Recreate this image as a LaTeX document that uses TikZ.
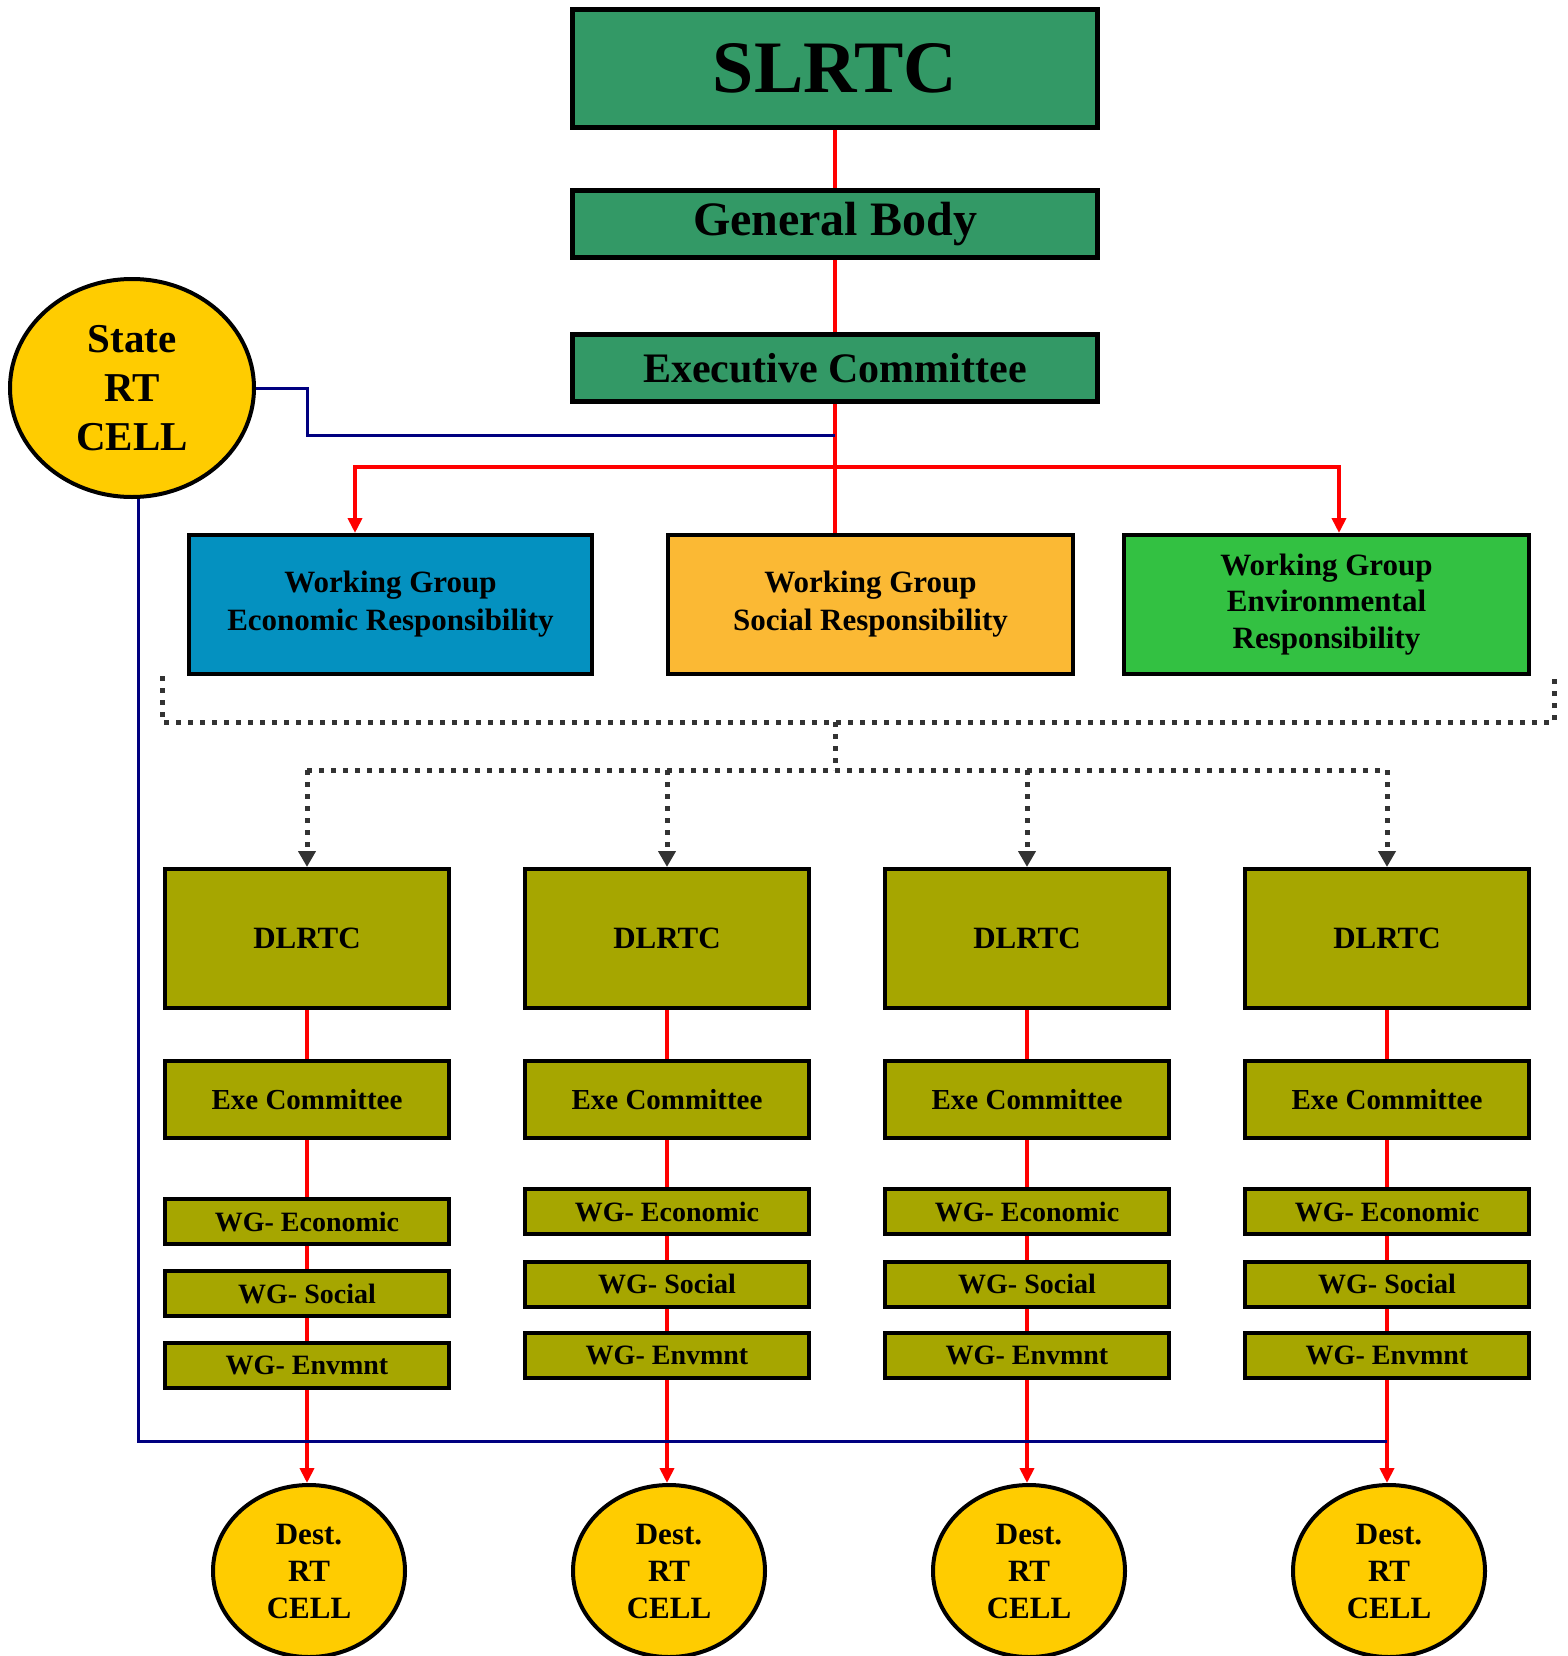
\documentclass[tikz,border=0pt]{standalone}
\usepackage{fontspec}
\setmainfont{Liberation Serif}
\usetikzlibrary{arrows.meta,shapes.geometric}
\definecolor{topgreen}{RGB}{51,153,102}
\definecolor{ecoblue}{RGB}{4,145,192}
\definecolor{socorange}{RGB}{251,185,52}
\definecolor{envgreen}{RGB}{51,193,66}
\definecolor{olivebox}{RGB}{166,166,0}
\definecolor{cellyellow}{RGB}{255,204,0}
\definecolor{linered}{RGB}{255,0,0}
\definecolor{linenavy}{RGB}{0,0,128}
\definecolor{dotgrey}{RGB}{51,51,51}
\begin{document}
\begin{tikzpicture}[x=1pt,y=-1pt,
  box/.style={draw=black, line width=4pt, rectangle, inner sep=0pt, align=center, font=\bfseries},
  topbox/.style={box, line width=5pt, fill=topgreen, minimum width=525pt},
  wgbox/.style={box, minimum width=403pt, minimum height=139pt, font=\bfseries\fontsize{31}{38}\selectfont},
  dlbox/.style={box, fill=olivebox, minimum width=284pt, minimum height=139pt, font=\bfseries\fontsize{31}{37}\selectfont},
  exebox/.style={box, fill=olivebox, minimum width=284pt, minimum height=77pt, font=\bfseries\fontsize{29}{35}\selectfont},
  smallbox/.style={box, fill=olivebox, minimum width=284pt, minimum height=45pt, font=\bfseries\fontsize{28}{34}\selectfont},
  cell/.style={ellipse, draw=black, line width=4pt, fill=cellyellow, inner sep=0pt, align=center},
  redline/.style={draw=linered, line width=4.5pt},
  redarrow/.style={redline, -{Triangle[length=15pt,width=14pt]}},
  blueline/.style={draw=linenavy, line width=3pt},
  dotline/.style={draw=dotgrey, line width=5pt, dash pattern=on 5pt off 7pt},
  dotarrow/.style={dotline, -{Triangle[length=16pt,width=17pt]}}
]
\useasboundingbox (0,0) rectangle (1567,1656);
\clip (0,0) rectangle (1567,1656);

% top hierarchy
\node[topbox, minimum height=118pt, font=\bfseries\fontsize{74}{80}\selectfont] (slrtc) at (835,68.5) {SLRTC};
\node[topbox, minimum height=67pt, font=\bfseries\fontsize{48}{54}\selectfont] (gb) at (835,224) {General Body};
\node[topbox, minimum height=67pt, font=\bfseries\fontsize{42}{50}\selectfont] (ec) at (835,368) {Executive Committee};

% state cell
\node[cell, minimum width=244pt, minimum height=218pt, font=\bfseries\fontsize{41}{49}\selectfont] (state) at (132,388) {State\\RT\\CELL};

% working groups
\node[wgbox, fill=ecoblue] (wge) at (390.5,604.5) {Working Group\\Economic Responsibility};
\node[wgbox, fill=socorange, minimum width=405pt] (wgs) at (870.5,604.5) {Working Group\\Social Responsibility};
\node[wgbox, fill=envgreen, minimum width=405pt, font=\bfseries\fontsize{31}{36.5}\selectfont] (wgv) at (1326.5,604.5) {Working Group\\Environmental\\Responsibility};

% red connectors top
\draw[redline] (slrtc.south) -- (gb.north);
\draw[redline] (gb.south) -- (ec.north);
\draw[redline] (ec.south) -- (ec.south |- wgs.north);
\coordinate (wgeA) at (355,533);
\coordinate (wgvA) at (1339,533);
\draw[redline, {Triangle[length=15pt,width=14pt]}-{Triangle[length=15pt,width=14pt]}] (wgeA) -- (355,467) -- (1339,467) -- (wgvA);

% blue link state -> exec line
\coordinate (ecB) at (835,435);
\draw[blueline] (state.east) -| (307,435) -- (ecB);

% dotted connectors
\coordinate (dotL) at (162,676);
\coordinate (dotR) at (1554,676);
\coordinate (dotC) at (835,722);
\draw[dotline] (dotL) -- (162,722) -- (1554,722) -- (dotR);
\draw[dotline] (dotC) -- (835,770);
\draw[dotline] (307,770) -- (1386,770);

% district columns
\foreach \i/\x/\ya/\yb/\yc in {1/307/1221.5/1293.5/1365.5, 2/667/1211.5/1284/1355.5, 3/1027/1211.5/1284/1355.5, 4/1387/1211.5/1284/1355.5}{
  \node[dlbox] (dl\i) at (\x,938.5) {DLRTC};
  \node[exebox] (exe\i) at (\x,1099.5) {Exe Committee};
  \node[smallbox] (wga\i) at (\x,\ya) {\raisebox{-4pt}{WG- Economic}};
  \node[smallbox] (wgb\i) at (\x,\yb) {\raisebox{-4pt}{WG- Social}};
  \node[smallbox] (wgc\i) at (\x,\yc) {\raisebox{-4pt}{WG- Envmnt}};
  \node[cell, minimum width=192pt, minimum height=172pt, font=\bfseries\fontsize{31}{37}\selectfont] (dest\i) at (\x+2,1571) {Dest.\\RT\\CELL};
  \coordinate (dtop\i) at (\x,770);
  \draw[dotarrow] (dtop\i) -- (dl\i.north);
  \draw[redline] (dl\i.south) -- (exe\i.north);
  \draw[redline] (exe\i.south) -- (wga\i.north);
  \draw[redline] (wga\i.south) -- (wgb\i.north);
  \draw[redline] (wgb\i.south) -- (wgc\i.north);
  \draw[redarrow] (wgc\i.south) -- (wgc\i.south |- dest\i.north);
}

% blue line down to district cells
\coordinate (blueEnd) at (1387,1441);
\draw[blueline] ([xshift=6pt]state.south) -- (138,1441) -- (blueEnd);
\end{tikzpicture}
\end{document}
